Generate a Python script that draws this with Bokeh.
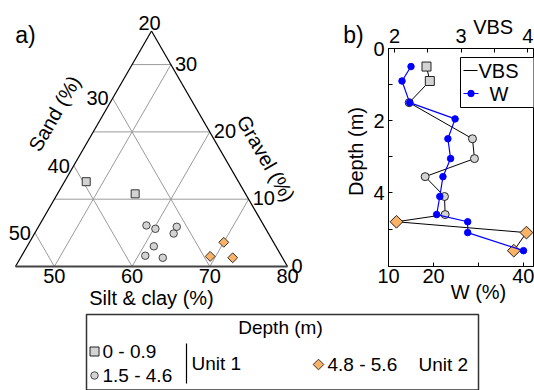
import math

from bokeh.core.properties import value
from bokeh.embed import file_html
from bokeh.layouts import column, row
from bokeh.models import CustomJSTickFormatter, FixedTicker, LinearAxis, Range1d
from bokeh.plotting import figure
from bokeh.resources import INLINE

FONT = "Liberation Sans"
GREY = "#d3d3d3"
ORANGE = "#f9b266"

# ---------------- grain-size composition (%) ----------------
# Unit 1, 0 - 0.9 m
sq_silt = [47.8, 55.0]
sq_gravel = [12.6, 10.8]
sq_sand = [39.6, 34.2]
# Unit 1, 1.5 - 4.6 m
ci_silt = [58.8, 60.2, 62.8, 62.9, 61.3, 60.9, 63.3]
ci_gravel = [6.1, 5.6, 5.9, 4.9, 3.0, 1.6, 1.3]
ci_sand = [35.1, 34.2, 31.3, 32.2, 35.7, 37.5, 35.4]
# Unit 2, 4.8 - 5.6 m
di_silt = [70.0, 69.3, 72.3]
di_gravel = [3.6, 1.5, 1.3]
di_sand = [26.4, 29.2, 26.4]

# ternary window: silt 45-80, gravel 0-35, sand 20-55
SILT_MIN, SPAN = 45.0, 35.0
silt_ticks = [50, 60, 70, 80]
gravel_ticks = [0, 10, 20, 30]
sand_ticks = [20, 30, 40, 50]

# ---------------- depth profile ----------------
w_depth = [0.5, 0.9, 1.5, 1.95, 2.5, 3.05, 3.55, 4.1, 4.6, 4.8, 5.1, 5.6]
w_values = [15.0, 13.0, 14.7, 24.8, 23.2, 23.8, 22.1, 21.4, 20.7, 27.6, 27.6, 40.0]

vbs_depth = [0.5, 0.9, 1.5, 2.5, 3.05, 3.55, 4.1, 4.6, 4.8, 5.1, 5.6]
vbs_values = [2.48, 2.53, 2.22, 3.17, 3.2, 2.46, 2.75, 2.76, 2.03, 3.98, 3.79]
vbs_group = ["sq", "sq", "ci", "ci", "ci", "ci", "ci", "ci", "di", "di", "di"]


def tern(silt, gravel):
    """Cartesian position of a (silt, gravel) composition inside the triangle."""
    xs = [(s - SILT_MIN) + g / 2.0 for s, g in zip(silt, gravel)]
    ys = [g * math.sqrt(3) / 2.0 for g in gravel]
    return xs, ys


def no_frame_align(p):
    if "frame_align" in p.properties():
        p.frame_align = False


TXT = dict(text_font=value(FONT), text_font_size="20px", text_color="black")
LETTER = dict(text_font=value(FONT), text_font_size="23px", text_color="black")

# ================= a) ternary diagram =================
PA_W, PA_H = 368, 310
K = 272.0 / SPAN  # pixels per percent
pa = figure(width=PA_W, height=PA_H, x_range=Range1d(-15 / K, (PA_W - 15) / K),
            y_range=Range1d((266 - PA_H) / K, 266 / K), output_backend="svg",
            toolbar_location=None, x_axis_location=None, y_axis_location=None,
            min_border=0, outline_line_color=None)
pa.grid.visible = False
no_frame_align(pa)


def px(x_pix, y_pix):
    return (x_pix - 15) / K, (266 - y_pix) / K


# interior grid lines
gxs, gys = [], []
for g in gravel_ticks[1:]:
    lx, ly = tern([SILT_MIN, 80 - g], [g, g])
    gxs.append(lx); gys.append(ly)
for s in silt_ticks[:-1]:
    lx, ly = tern([s, s], [0, 80 - s])
    gxs.append(lx); gys.append(ly)
for n in sand_ticks[1:]:
    lx, ly = tern([100 - n, SILT_MIN], [0, 55 - n])
    gxs.append(lx); gys.append(ly)
pa.multi_line(gxs, gys, line_color="#9b9b9b", line_width=1)

# triangle outline
ex, ey = tern([SILT_MIN, SILT_MIN + SPAN, SILT_MIN], [SPAN, 0, 0])
pa.line([ex[0], ex[1]], [ey[0], ey[1]], line_color="black", line_width=1.2)
pa.line([ex[0], ex[2]], [ey[0], ey[2]], line_color="black", line_width=1.2)
pa.line([ex[1], ex[2]], [ey[1], ey[2]], line_color="#444444", line_width=2)

# samples
x, y = tern(sq_silt, sq_gravel)
pa.scatter(x, y, marker="square", size=8, fill_color=GREY, line_color="#333333", line_width=1)
x, y = tern(ci_silt, ci_gravel)
pa.scatter(x, y, marker="circle", size=7.5, fill_color=GREY, line_color="#444444", line_width=1)
x, y = tern(di_silt, di_gravel)
pa.scatter(x, y, marker="square", angle=math.pi / 4, size=7, fill_color=ORANGE,
           line_color="#333333", line_width=1)

# silt & clay tick labels along the base
x, y = tern(silt_ticks, [0] * len(silt_ticks))
pa.text(x, y, text=[str(v) for v in silt_ticks], text_align="center",
        text_baseline="top", y_offset=2, **TXT)
# gravel tick labels along the right edge
x, y = tern([80 - g for g in gravel_ticks], gravel_ticks)
pa.text(x, y, text=[str(v) for v in gravel_ticks], text_align="left",
        text_baseline="middle", x_offset=4, y_offset=-1, **TXT)
# sand tick labels along the left edge (apex value sits above the apex)
x, y = tern([SILT_MIN] * 3, [55 - n for n in sand_ticks[1:]])
pa.text(x, y, text=[str(v) for v in sand_ticks[1:]], text_align="right",
        text_baseline="middle", x_offset=-4, **TXT)
x, y = tern([SILT_MIN], [55 - sand_ticks[0]])
pa.text(x, y, text=[str(sand_ticks[0])], text_align="center",
        text_baseline="bottom", x_offset=-2, y_offset=-1, **TXT)

# axis titles and panel letters
lx, ly = px(54, 113)
pa.text([lx], [ly], text=["Sand (%)"], angle=math.pi / 3, text_align="center",
        text_baseline="middle", **TXT)
lx, ly = px(265.5, 158)
pa.text([lx], [ly], text=["Gravel (%)"], angle=-math.pi / 3, text_align="center",
        text_baseline="middle", **TXT)
lx, ly = px(151, 297)
pa.text([lx], [ly], text=["Silt & clay (%)"], text_align="center",
        text_baseline="middle", **TXT)
lx, ly = px(25, 34)
pa.text([lx], [ly], text=["a)"], text_align="center", text_baseline="middle", **LETTER)
# panel b letter and depth title sit just left of panel b
lx, ly = px(353, 34)
pa.text([lx], [ly], text=["b)"], text_align="center", text_baseline="middle", **LETTER)
lx, ly = px(355.5, 151)
pa.text([lx], [ly], text=["Depth (m)"], angle=math.pi / 2, text_align="center",
        text_baseline="middle", **TXT)

# ================= b) depth profile =================
W0, W_PX = 10.0, 4.5        # W at the left frame edge, pixels per %
V0, V_PX = 1.91, 66.65      # VBS at the left frame edge, pixels per unit
D_PX = 36.1                 # pixels per metre
FRAME_W, FRAME_H = 145, 218

pb = figure(width=534 - PA_W, height=PA_H,
            x_range=Range1d(W0, W0 + FRAME_W / W_PX),
            y_range=Range1d(FRAME_H / D_PX, 0),
            output_backend="svg", toolbar_location=None,
            min_border_left=534 - PA_W - FRAME_W - 1, min_border_right=1,
            min_border_top=48, min_border_bottom=PA_H - 48 - FRAME_H,
            outline_line_color="black", outline_line_width=1)
pb.grid.visible = False
no_frame_align(pb)
pb.extra_x_ranges = {"vbs": Range1d(V0, V0 + FRAME_W / V_PX)}

AX = dict(major_label_text_font=FONT, major_label_text_font_size="20px",
          major_label_text_color="black", major_tick_in=4, major_tick_out=0,
          minor_tick_in=4, minor_tick_out=0, axis_line_color="black",
          major_tick_line_color="black", minor_tick_line_color="black")
BARE = dict(major_label_text_font=FONT, major_label_text_font_size="20px",
            major_label_text_color="black", axis_line_color=None,
            major_tick_line_color=None, minor_tick_line_color=None,
            major_tick_in=0, major_tick_out=0, minor_tick_in=0, minor_tick_out=0)

xa = pb.xaxis[0]
xa.ticker = FixedTicker(ticks=[10, 20, 40], minor_ticks=[30])
xa.major_label_standoff = 2
for k, v in AX.items():
    setattr(xa, k, v)

ya = pb.yaxis[0]
ya.ticker = FixedTicker(ticks=[0, 2, 4], minor_ticks=[1, 3, 5])
ya.major_label_standoff = 4
for k, v in AX.items():
    setattr(ya, k, v)

top = LinearAxis(x_range_name="vbs", ticker=FixedTicker(ticks=[2, 3, 4], minor_ticks=[2.5, 3.5]),
                 major_label_standoff=6, **AX)
pb.add_layout(top, "above")

# axis titles placed off-centre, as in the figure
vbs_title = LinearAxis(x_range_name="vbs", ticker=FixedTicker(ticks=[3.48]),
                       formatter=CustomJSTickFormatter(code="return 'VBS'"),
                       major_label_standoff=-12, **BARE)
pb.add_layout(vbs_title, "above")
w_title = LinearAxis(ticker=FixedTicker(ticks=[30]),
                     formatter=CustomJSTickFormatter(code="return 'W (%)'"),
                     major_label_standoff=-5, **BARE)
pb.add_layout(w_title, "below")

# VBS profile
pb.line(vbs_values, vbs_depth, x_range_name="vbs", line_color="black", line_width=1)
shape = {"sq": ("square", 9, 0.0, GREY), "ci": ("circle", 8, 0.0, GREY),
         "di": ("square", 9, math.pi / 4, ORANGE)}
for key in ["sq", "ci", "di"]:
    idx = [i for i, g in enumerate(vbs_group) if g == key]
    m, s, a, c = shape[key]
    pb.scatter([vbs_values[i] for i in idx], [vbs_depth[i] for i in idx], x_range_name="vbs",
               marker=m, size=s, angle=a, fill_color=c, line_color="#222222", line_width=1)

# water content profile
pb.line(w_values, w_depth, line_color="blue", line_width=1.2)
pb.scatter(w_values, w_depth, marker="circle", size=6.5, fill_color="blue", line_color="blue")


def wpx(x_pix):
    return W0 + (x_pix - 388) / W_PX


def dpx(y_pix):
    return (y_pix - 48) / D_PX


# legend box inside the frame
pb.quad(left=[wpx(460)], right=[wpx(540)], top=[dpx(57)], bottom=[dpx(107)],
        fill_color="white", line_color="black", line_width=1)
pb.line([wpx(463), wpx(477)], [dpx(70), dpx(70)], line_color="black", line_width=1)
pb.line([wpx(463), wpx(478)], [dpx(93), dpx(93)], line_color="blue", line_width=1.2)
pb.scatter([wpx(470.5)], [dpx(93)], marker="circle", size=6.5, fill_color="blue", line_color="blue")
pb.text([wpx(478), wpx(489)], [dpx(70), dpx(93)], text=["VBS", "W"], text_align="left",
        text_baseline="middle", **TXT)

# ================= shared legend =================
pl = figure(width=534, height=390 - PA_H, x_range=Range1d(0, 534), y_range=Range1d(390 - PA_H, 0),
            output_backend="svg", toolbar_location=None, x_axis_location=None,
            y_axis_location=None, min_border=0, outline_line_color=None)
pl.grid.visible = False
no_frame_align(pl)

LTX = dict(text_font=value(FONT), text_font_size="19px", text_color="black",
           text_baseline="middle")
pl.quad(left=[86], right=[478], top=[4], bottom=[79.5], fill_color="white",
        line_color="#333333", line_width=1.5)
pl.text([280], [17], text=["Depth (m)"], text_align="center", **LTX)
pl.scatter([94], [41], marker="square", size=9, fill_color=GREY, line_color="#222222")
pl.scatter([94], [65], marker="circle", size=7.5, fill_color=GREY, line_color="#444444")
pl.text([102, 102], [41, 65], text=["0 - 0.9", "1.5 - 4.6"], text_align="left", **LTX)
pl.line([186, 186], [33, 73], line_color="black", line_width=1.2)
pl.text([191], [53], text=["Unit 1"], text_align="left", **LTX)
pl.scatter([318], [54], marker="square", angle=math.pi / 4, size=7.5, fill_color=ORANGE,
           line_color="#333333")
pl.text([327, 418], [54, 54], text=["4.8 - 5.6", "Unit 2"], text_align="left", **LTX)

layout = column(row(pa, pb), pl)
open("out.html", "w").write(file_html(layout, INLINE))
